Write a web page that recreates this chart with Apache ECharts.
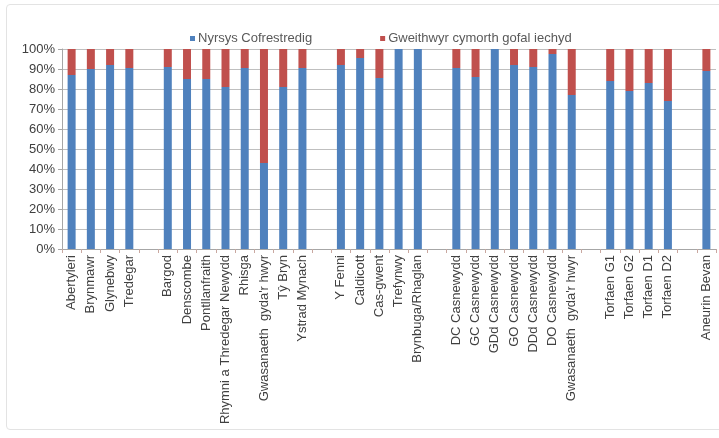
<!DOCTYPE html>
<html>
<head>
<meta charset="utf-8">
<script src="https://cdn.jsdelivr.net/npm/echarts@6/dist/echarts.min.js"></script>
<style>
  html, body { margin: 0; padding: 0; background: #ffffff; }
  #frame { position: absolute; left: 6px; top: 4px; width: 740px; height: 426px;
           border: 1px solid #e3e3e3; border-radius: 4px; box-sizing: border-box; }
  #chart { position: absolute; left: 0; top: 0; width: 719px; height: 438px; }
</style>
</head>
<body>
<div id="frame"></div>
<div id="chart"></div>
<script>
// Ward names; empty strings are spacer slots separating the groups
const categories = [
  'Abertyleri', 'Brynmawr', 'Glynebwy', 'Tredegar', '',
  'Bargod', 'Denscombe', 'Pontllanfraith', 'Rhymni a Thredegar Newydd', 'Rhisga',
  "Gwasanaeth  gyda'r hwyr", 'Tŷ Bryn', 'Ystrad Mynach', '',
  'Y Fenni', 'Caldicott', 'Cas-gwent', 'Trefynwy', 'Brynbuga/Rhaglan', '',
  'DC Casnewydd', 'GC Casnewydd', 'GDd Casnewydd', 'GO Casnewydd', 'DDd Casnewydd',
  'DO Casnewydd', "Gwasanaeth  gyda'r hwyr", '',
  'Torfaen G1', 'Torfaen G2', 'Torfaen D1', 'Torfaen D2', '',
  'Aneurin Bevan'
];

// Share of registered nurses (%), null for spacer slots
const nurses = [
  87, 90, 92, 90.5, null,
  91, 85, 85, 81, 90.5, 43, 81, 90.5, null,
  92, 95.5, 85.5, 100, 100, null,
  90.5, 86, 100, 92, 91, 97.5, 77, null,
  84, 79, 83, 74, null,
  89
];

// Share of healthcare support workers (%), the remainder of each bar
const supportWorkers = nurses.map(v => v === null ? null : +(100 - v).toFixed(1));

const yTicks = [0, 10, 20, 30, 40, 50, 60, 70, 80, 90, 100];

const chart = echarts.init(document.getElementById('chart'), null, { renderer: 'canvas' });
const textColor = '#404040';
const font = 'Liberation Sans, Arial, sans-serif';

chart.setOption({
  animation: false,
  textStyle: { fontFamily: font },
  legend: {
    top: 27,
    left: 185,
    itemWidth: 5,
    itemHeight: 5,
    itemGap: 68,
    icon: 'rect',
    textStyle: { color: '#595959', fontSize: 13, fontFamily: font, padding: [0, 0, 0, -2] },
    data: ['Nyrsys Cofrestredig', 'Gweithwyr cymorth gofal iechyd']
  },
  grid: { left: 62, right: 3, top: 49, bottom: 189 },
  xAxis: {
    type: 'category',
    data: categories,
    axisLine: { lineStyle: { color: '#a6a6a6' } },
    axisTick: { show: true, alignWithLabel: false, interval: 0, length: 4, lineStyle: { color: '#c9a8a0' } },
    axisLabel: { interval: 0, rotate: 90, color: textColor, fontSize: 13, margin: 6, fontFamily: font }
  },
  yAxis: {
    type: 'value',
    min: yTicks[0],
    max: yTicks[yTicks.length - 1],
    interval: 10,
    axisLine: { show: true, lineStyle: { color: '#a6a6a6' } },
    axisTick: { show: true, length: 4, lineStyle: { color: '#a6a6a6' } },
    axisLabel: { formatter: '{value}%', color: textColor, fontSize: 13, margin: 7, fontFamily: font },
    splitLine: { lineStyle: { color: '#bfbfbf' } }
  },
  series: [
    {
      name: 'Nyrsys Cofrestredig',
      type: 'bar',
      stack: 'share',
      barWidth: 8,
      itemStyle: { color: '#4f81bd' },
      data: nurses
    },
    {
      name: 'Gweithwyr cymorth gofal iechyd',
      type: 'bar',
      stack: 'share',
      barWidth: 8,
      itemStyle: { color: '#c0504d' },
      data: supportWorkers
    }
  ]
});
</script>
</body>
</html>
